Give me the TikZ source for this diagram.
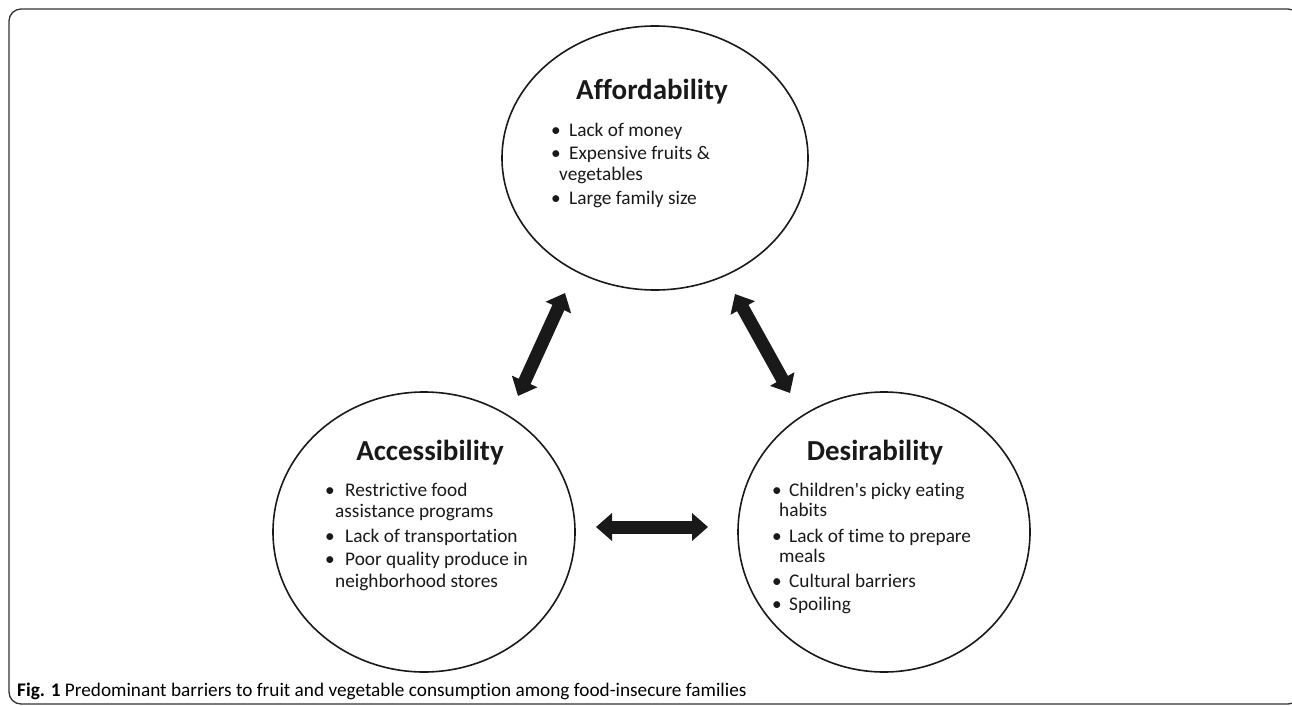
\documentclass[tikz,border=0pt]{standalone}
\usepackage{fontspec}
\setmainfont{Carlito}
\newfontfamily\bodyfont{Carlito}[Ligatures=NoCommon]
\usetikzlibrary{shapes.geometric,arrows.meta}
\begin{document}
\begin{tikzpicture}[x=1pt,y=-1pt,
  circ/.style={draw=black!90,line width=1.6pt,ellipse,inner sep=0pt},
  ttl/.style={font=\bodyfont\fontsize{29}{34}\selectfont\bfseries,inner sep=0pt,anchor=base,text=black!90},
  txt/.style={font=\bodyfont\fontsize{19.3}{23}\selectfont,inner sep=0pt,anchor=base west,text=black!90},
  bul/.style={font=\bodyfont\fontsize{19.3}{23}\selectfont,inner sep=0pt,anchor=base,text=black!90},
  dbl/.style={line width=13pt,draw=black!90,{Triangle[length=16pt,width=27pt]}-{Triangle[length=16pt,width=27pt]}}]
\useasboundingbox (0,0) rectangle (1292,706);
\draw[line width=1.3pt,draw=black!80,rounded corners=12pt] (9,9) rectangle (1300,704);

% ellipses
\node[circ,minimum width=306pt,minimum height=264pt] (aff) at (655,158) {};
\node[circ,minimum width=302pt,minimum height=280pt] (acc) at (424,532) {};
\node[circ,minimum width=292pt,minimum height=280pt] (des) at (884,532) {};

% Affordability
\node[ttl] (afft) at (652,100) {Affordability};
\node[bul] (ab1) at (556,136) {\textbullet};
\node[txt] (a1) at (569,136) {Lack of money};
\node[bul] (ab2) at (556,159) {\textbullet};
\node[txt] (a2) at (569,159) {Expensive fruits \&};
\node[txt] (a3) at (559,180) {vegetables};
\node[bul] (ab3) at (556,204) {\textbullet};
\node[txt] (a4) at (569,204) {Large family size};

% Accessibility
\node[ttl] (acct) at (430,460) {Accessibility};
\node[bul] (cb1) at (330,496) {\textbullet};
\node[txt] (c1) at (345,496) {Restrictive food};
\node[txt] (c2) at (335,517) {assistance programs};
\node[bul] (cb2) at (330,542) {\textbullet};
\node[txt] (c3) at (345,542) {Lack of transportation};
\node[bul] (cb3) at (330,565) {\textbullet};
\node[txt] (c4) at (345,565) {Poor quality produce in};
\node[txt] (c5) at (335,587) {neighborhood stores};

% Desirability
\node[ttl] (dest) at (875,460) {Desirability};
\node[bul] (db1) at (777,496) {\textbullet};
\node[txt] (d1) at (789,496) {Children's picky eating};
\node[txt] (d2) at (779,516) {habits};
\node[bul] (db2) at (777,542) {\textbullet};
\node[txt] (d3) at (789,542) {Lack of time to prepare};
\node[txt] (d4) at (779,562) {meals};
\node[bul] (db3) at (777,587) {\textbullet};
\node[txt] (d5) at (789,587) {Cultural barriers};
\node[bul] (db4) at (777,610) {\textbullet};
\node[txt] (d6) at (789,610) {Spoiling};

% arrows
\coordinate (l1) at (518,396);
\coordinate (l2) at (565,293);
\coordinate (r1) at (735,294);
\coordinate (r2) at (790,393);
\coordinate (h1) at (596,527);
\coordinate (h2) at (708,527);
\draw[dbl] (l1) -- (l2);
\draw[dbl] (r1) -- (r2);
\draw[dbl] (h1) -- (h2);

% caption
\node[anchor=base west,inner sep=0pt,font=\bodyfont\fontsize{19.25}{22}\selectfont] (cap) at (17,696)
  {\textbf{Fig. 1} Predominant barriers to fruit and vegetable consumption among food-insecure families};
\end{tikzpicture}
\end{document}
